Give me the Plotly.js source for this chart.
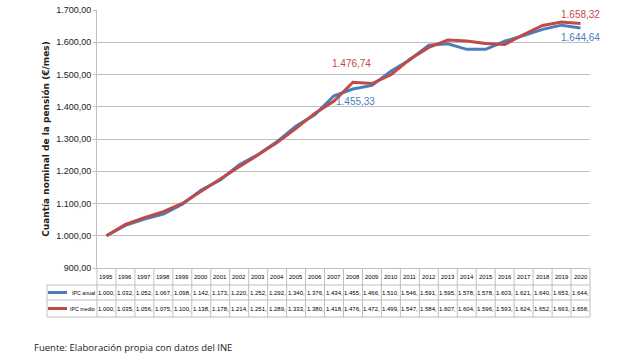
<!DOCTYPE html>
<html><head><meta charset="utf-8">
<script src="https://cdn.plot.ly/plotly-3.0.1.min.js"></script>
<style>html,body{margin:0;padding:0;background:#fff}#chart{width:630px;height:359px}</style>
</head><body><div id="chart"></div>
<script>
const years = ['1995','1996','1997','1998','1999','2000','2001','2002','2003','2004','2005','2006','2007','2008','2009','2010','2011','2012','2013','2014','2015','2016','2017','2018','2019','2020'];
const ipcAnual = [1000,1032,1052,1067,1098,1142,1173,1220,1252,1292,1340,1376,1434,1455,1466,1510,1546,1591,1595,1578,1578,1603,1621,1640,1653,1644];
const ipcMedio = [1000,1035,1056,1075,1100,1138,1178,1214,1251,1289,1333,1380,1418,1476,1472,1499,1547,1584,1607,1604,1596,1593,1624,1652,1663,1658];
const seriesNames = ['IPC anual','IPC medio'];
const labelYears = ['2008','2020'];
const labelAnualVals = [1455.33, 1644.64];
const labelAnualText = ['1.455,33','1.644,64'];
const labelMedioVals = [1476.74, 1658.32];
const labelMedioText = ['1.476,74','1.658,32'];

// label offsets in pixels (style)
const anualShift = [{x:3, y:-13}, {x:0, y:-10}];
const medioShift = [{x:-1, y:19}, {x:0, y:9}];

const blue = '#4a7ebb', red = '#be4b48';
const font = 'Liberation Sans, Arial, sans-serif';
const grid = '#bfbfbf';

const fmtTable = v => { const s = String(v); return s.slice(0,1) + '.' + s.slice(1) + ','; };
const idx = y => years.indexOf(y);

const traces = [
  {x: years, y: ipcAnual, type:'scatter', mode:'lines', name: seriesNames[0], line:{color: blue, width:3}},
  {x: years, y: ipcMedio, type:'scatter', mode:'lines', name: seriesNames[1], line:{color: red, width:3}}
];

const yHeaderTop = 0, yRow1Top = -0.066, yRow2Top = -0.124, yBottom = -0.19;
const xLeft = -0.1014;
const shapes = [];
const lineStyle = {color: grid, width: 1};
shapes.push({type:'line', xref:'paper', yref:'paper', x0:xLeft, x1:1, y0:yRow1Top, y1:yRow1Top, line:lineStyle});
shapes.push({type:'line', xref:'paper', yref:'paper', x0:xLeft, x1:1, y0:yRow2Top, y1:yRow2Top, line:lineStyle});
shapes.push({type:'line', xref:'paper', yref:'paper', x0:xLeft, x1:1, y0:yBottom, y1:yBottom, line:lineStyle});
shapes.push({type:'line', xref:'paper', yref:'paper', x0:xLeft, x1:xLeft, y0:yRow1Top, y1:yBottom, line:lineStyle});
shapes.push({type:'line', xref:'paper', yref:'paper', x0:0, x1:0, y0:yHeaderTop, y1:yBottom, line:lineStyle});
shapes.push({type:'line', xref:'paper', yref:'paper', x0:1, x1:1, y0:yHeaderTop, y1:yBottom, line:lineStyle});
for (let i = 1; i < years.length; i++) {
  shapes.push({type:'line', xref:'x', yref:'paper', x0:i-0.5, x1:i-0.5, y0:yHeaderTop, y1:yBottom, line:lineStyle});
}
const yR0 = (yHeaderTop + yRow1Top)/2, yR1 = (yRow1Top + yRow2Top)/2, yR2 = (yRow2Top + yBottom)/2;
shapes.push({type:'line', xref:'paper', yref:'paper', x0:-0.0994, x1:-0.0608, y0:yR1, y1:yR1, line:{color:blue, width:3}});
shapes.push({type:'line', xref:'paper', yref:'paper', x0:-0.0994, x1:-0.0608, y0:yR2, y1:yR2, line:{color:red, width:3}});

const annotations = [];
const tblFont = {family: font, size: 6, color: '#000'};
years.forEach((yr, i) => {
  annotations.push({x: i, y: yR0, xref:'x', yref:'paper', text: yr, showarrow:false, font: tblFont, yanchor:'middle'});
  annotations.push({x: i, y: yR1, xref:'x', yref:'paper', text: fmtTable(ipcAnual[i]), showarrow:false, font: tblFont, yanchor:'middle'});
  annotations.push({x: i, y: yR2, xref:'x', yref:'paper', text: fmtTable(ipcMedio[i]), showarrow:false, font: tblFont, yanchor:'middle'});
});
const legFont = {family: font, size: 5.3, color: '#000'};
annotations.push({x:-0.0008, y:yR1, xref:'paper', yref:'paper', xanchor:'right', yanchor:'middle', text: seriesNames[0], showarrow:false, font: legFont});
annotations.push({x:-0.0008, y:yR2, xref:'paper', yref:'paper', xanchor:'right', yanchor:'middle', text: seriesNames[1], showarrow:false, font: legFont});

labelYears.forEach((yr, k) => {
  annotations.push({x:idx(yr), y:labelMedioVals[k], xref:'x', yref:'y', text:labelMedioText[k], showarrow:false, xshift:medioShift[k].x, yshift:medioShift[k].y, font:{family:font, size:10, color:red}});
  annotations.push({x:idx(yr), y:labelAnualVals[k], xref:'x', yref:'y', text:labelAnualText[k], showarrow:false, xshift:anualShift[k].x, yshift:anualShift[k].y, font:{family:font, size:10, color:blue}});
});

annotations.push({x:(32-97)/493, y:-(347-268)/258, xref:'paper', yref:'paper', xanchor:'left', yanchor:'middle', text:'Fuente: Elaboración propia con datos del INE', showarrow:false, font:{family:'Open Sans, sans-serif', size:9.5, color:'#222'}});

const layout = {
  width:630, height:359,
  margin:{l:97, r:40, t:10, b:91},
  paper_bgcolor:'#fff', plot_bgcolor:'#fff',
  showlegend:false,
  separators:',.',
  font:{family: font, color:'#222'},
  xaxis:{type:'category', range:[-0.5, 25.5], showticklabels:false, ticks:'', showgrid:false, showline:true, linecolor:grid, linewidth:1, zeroline:false, fixedrange:true},
  yaxis:{range:[900,1700], dtick:100, tickformat:',.2f', showgrid:true, gridcolor:grid, gridwidth:1, showline:true, linecolor:grid, linewidth:1, ticks:'outside', ticklen:3, tickcolor:grid, zeroline:false,
         tickfont:{family:font, size:9, color:'#222'},
         title:{text:'<b>Cuantía nominal de la pensión (€/mes)</b>', font:{family:'DejaVu Sans, sans-serif', size:9, color:'#222'}, standoff:5}},
  shapes: shapes,
  annotations: annotations
};
Plotly.newPlot('chart', traces, layout, {displayModeBar:false, staticPlot:true});
</script></body></html>
